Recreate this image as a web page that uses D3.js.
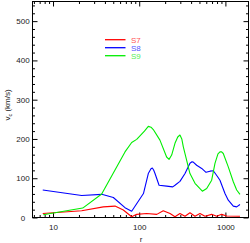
<!DOCTYPE html>
<html>
<head>
<meta charset="utf-8">
<script src="https://cdn.jsdelivr.net/npm/d3@7"></script>
<style>
  body { margin: 0; background: #fff; }
  svg { display: block; }
  text { font-family: "Liberation Sans", Arial, sans-serif; }
</style>
</head>
<body>
<svg id="chart" width="250" height="243"></svg>
<script>
// values (r, v_c)
const s7r = [7.6, 21.5, 38.3, 52.4, 65.4, 81.8, 93.5, 122, 160, 190, 228, 260, 297, 340, 388, 444, 507, 580, 693, 792, 905, 1035, 1476];
const s7v = [10, 17, 27, 29, 19, 2, 8, 10, 8, 17, 10, 2, 10, 3, 12, 3, 10, 3, 8, 3, 8, 4, 3];

const s8r = [7.6, 21.5, 36.7, 50.1, 68.4, 81.8, 112, 127.5, 137, 142, 147, 152.5, 170, 208, 245, 260, 297, 340, 388, 410, 424, 464, 531, 596, 663, 724, 805, 865, 989, 1080, 1235, 1352, 1476];
const s8v = [70, 56, 59, 51, 25, 16, 61, 112, 124, 126, 121, 112, 82, 80, 78, 82, 92, 112, 138, 142, 141, 133, 125, 115, 118, 119, 105, 95, 61, 44, 29, 27, 33];

const s9r = [7.7, 22.1, 36.7, 68.4, 81.8, 93.5, 115, 127.5, 137, 145.7, 174, 208, 222, 238, 260, 280, 297, 312, 325, 388, 444, 540, 607, 693, 757, 820, 865, 905, 945, 1080, 1235, 1352, 1476];
const s9v = [7, 24, 60, 167, 191, 199, 220, 232, 230, 224, 197, 154, 148, 159, 189, 205, 210, 200, 180, 112, 87, 67, 74, 95, 138, 162, 167, 167, 163, 129, 91, 70, 59];

const seriesNames = ["S7", "S8", "S9"];
const seriesColors = ["#ff0000", "#0000ff", "#00ee00"];
const labelColors = ["#ff5555", "#5555ff", "#55ee55"];

const xMajor = [10, 100, 1000];
const xMinor = [6, 7, 8, 9, 20, 30, 40, 50, 60, 70, 80, 90, 200, 300, 400, 500, 600, 700, 800, 900];
const yMajor = [0, 100, 200, 300, 400, 500];
const yMinor = d3.range(0, 551, 20).filter(v => v % 100 !== 0);

const svg = d3.select("#chart");
const pLeft = 32.5, pRight = 248.5, pTop = 1.5, pBottom = 217.5;

const x = d3.scaleLog().domain([5.78, 1854]).range([pLeft, pRight]);
const y = d3.scaleLinear().domain([0, 550]).range([pBottom, pTop]);

const font = 8;

function styleAxis(g) {
  g.select(".domain").remove();
  g.selectAll("line").attr("stroke", "#000").attr("stroke-width", 1);
  g.selectAll("text").attr("font-size", font).attr("fill", "#222").attr("font-family", null);
}

// bottom
svg.append("g").attr("transform", `translate(0,${pBottom})`)
  .call(d3.axisBottom(x).tickValues(xMajor).tickSize(-5).tickPadding(6.5).tickFormat(d3.format("d")))
  .call(styleAxis);
svg.append("g").attr("transform", `translate(0,${pBottom})`)
  .call(d3.axisBottom(x).tickValues(xMinor).tickSize(-2.5).tickFormat(""))
  .call(styleAxis);
// top
svg.append("g").attr("transform", `translate(0,${pTop})`)
  .call(d3.axisTop(x).tickValues(xMajor).tickSize(-5).tickFormat(""))
  .call(styleAxis);
svg.append("g").attr("transform", `translate(0,${pTop})`)
  .call(d3.axisTop(x).tickValues(xMinor).tickSize(-2.5).tickFormat(""))
  .call(styleAxis);
// left
const yl = svg.append("g").attr("transform", `translate(${pLeft},0)`)
  .call(d3.axisLeft(y).tickValues(yMajor).tickSize(-5))
  .call(styleAxis);
yl.selectAll("text").attr("x", 23 - pLeft).attr("text-anchor", "middle");
svg.append("g").attr("transform", `translate(${pLeft},0)`)
  .call(d3.axisLeft(y).tickValues(yMinor).tickSize(-2.5).tickFormat(""))
  .call(styleAxis);
// right
svg.append("g").attr("transform", `translate(${pRight},0)`)
  .call(d3.axisRight(y).tickValues(yMajor).tickSize(-5).tickFormat(""))
  .call(styleAxis);
svg.append("g").attr("transform", `translate(${pRight},0)`)
  .call(d3.axisRight(y).tickValues(yMinor).tickSize(-2.5).tickFormat(""))
  .call(styleAxis);

// frame
svg.append("rect")
  .attr("x", pLeft).attr("y", pTop)
  .attr("width", pRight - pLeft).attr("height", pBottom - pTop)
  .attr("fill", "none").attr("stroke", "#000").attr("stroke-width", 1);

// curves
const line = d3.line().x(d => x(d[0])).y(d => y(d[1]));
const series = [d3.zip(s7r, s7v), d3.zip(s8r, s8v), d3.zip(s9r, s9v)];
series.forEach((s, i) => {
  svg.append("path").datum(s)
    .attr("d", line)
    .attr("fill", "none")
    .attr("stroke", seriesColors[i])
    .attr("stroke-width", 1.1)
    .attr("stroke-linejoin", "round");
});

// legend
seriesNames.forEach((name, i) => {
  const ly = 39.7 + i * 8;
  svg.append("line")
    .attr("x1", 105).attr("x2", 125.5)
    .attr("y1", ly).attr("y2", ly)
    .attr("stroke", seriesColors[i]).attr("stroke-width", 1.3);
  svg.append("text")
    .attr("x", 131).attr("y", ly + 3)
    .attr("font-size", font)
    .attr("fill", labelColors[i])
    .text(name);
});

// axis titles
svg.append("text")
  .attr("x", 141).attr("y", 242)
  .attr("text-anchor", "middle")
  .attr("font-size", font)
  .attr("fill", "#222")
  .text("r");

const yt = svg.append("text")
  .attr("transform", "translate(10,105) rotate(-90)")
  .attr("text-anchor", "middle")
  .attr("font-size", font)
  .attr("fill", "#222");
yt.append("tspan").text("v");
yt.append("tspan").attr("font-size", 5.5).attr("dy", 1.5).text("c");
yt.append("tspan").attr("dy", -1.5).text(" (km/s)");
</script>
</body>
</html>
